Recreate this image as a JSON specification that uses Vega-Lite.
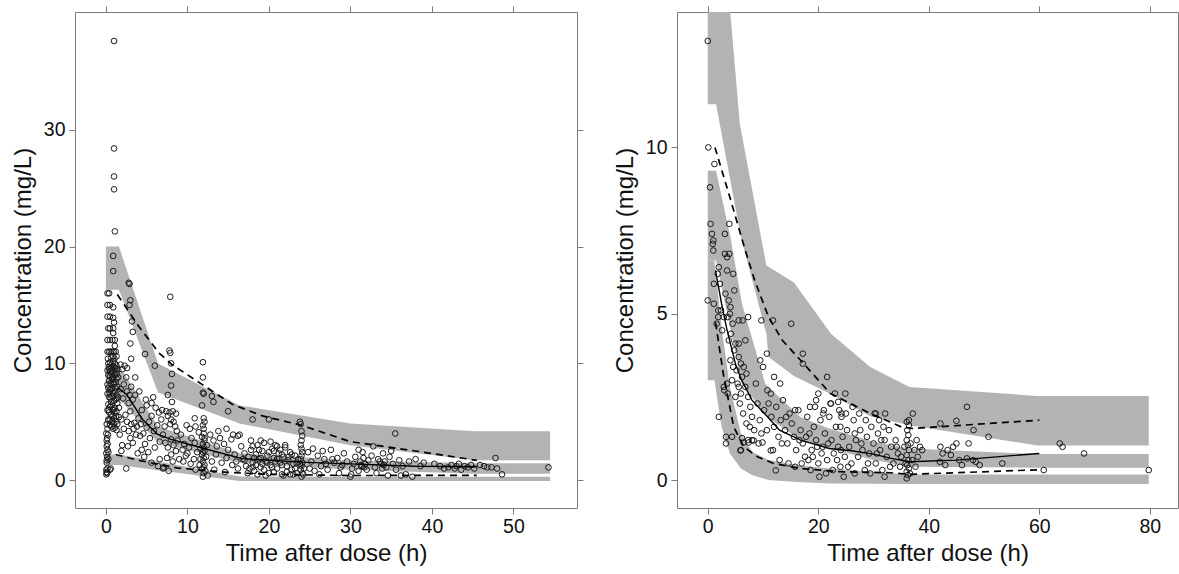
{
"$schema":"https://vega.github.io/schema/vega-lite/v6.json",
"background":"white",
"padding":{"left":10,"top":5,"right":0,"bottom":0},
"spacing":28,
"config":{"view":{"stroke":"#7a7a7a","strokeWidth":1},"font":"Liberation Sans"},
"datasets":{
"L_band":[
{"b":"p95","t":0,"lo":16.3,"hi":20},{"b":"p95","t":1.6,"lo":16.3,"hi":20},{"b":"p95","t":6.4,"lo":7.5,"hi":10},{"b":"p95","t":16.4,"lo":4.85,"hi":6.4},{"b":"p95","t":30,"lo":3.0,"hi":4.85},{"b":"p95","t":45.3,"lo":1.7,"hi":4.2},{"b":"p95","t":54.5,"lo":1.7,"hi":4.2},
{"b":"p50","t":0,"lo":7.0,"hi":9.8},{"b":"p50","t":1.6,"lo":7.0,"hi":9.8},{"b":"p50","t":6.4,"lo":3.2,"hi":4.6},{"b":"p50","t":16.4,"lo":1.5,"hi":2.3},{"b":"p50","t":30,"lo":0.9,"hi":1.7},{"b":"p50","t":45.3,"lo":0.55,"hi":1.45},{"b":"p50","t":54.5,"lo":0.55,"hi":1.45},
{"b":"p5","t":0,"lo":1.3,"hi":2.2},{"b":"p5","t":1.6,"lo":1.3,"hi":2.2},{"b":"p5","t":6.4,"lo":0.85,"hi":1.6},{"b":"p5","t":16.4,"lo":-0.06,"hi":0.32},{"b":"p5","t":30,"lo":-0.06,"hi":0.3},{"b":"p5","t":45.3,"lo":-0.06,"hi":0.3},{"b":"p5","t":54.5,"lo":-0.06,"hi":0.3}
],
"L_med":[{"t":1.5,"c":7.9},{"t":2.6,"c":7.3},{"t":4.5,"c":5.2},{"t":6.3,"c":3.95},{"t":8,"c":3.5},{"t":11.6,"c":2.8},{"t":16.7,"c":1.85},{"t":24,"c":1.55},{"t":30,"c":1.4},{"t":38,"c":1.2},{"t":45.5,"c":1.15}],
"L_dash":[
{"q":"p95","t":1.4,"c":15.9},{"q":"p95","t":4,"c":13.2},{"q":"p95","t":6.5,"c":10.9},{"q":"p95","t":8.1,"c":9.9},{"q":"p95","t":11.8,"c":8.2},{"q":"p95","t":15.5,"c":6.5},{"q":"p95","t":19.2,"c":5.5},{"q":"p95","t":24,"c":4.7},{"q":"p95","t":30,"c":3.3},{"q":"p95","t":38,"c":2.5},{"q":"p95","t":45.5,"c":1.7},
{"q":"p5","t":1.2,"c":2.2},{"q":"p5","t":4,"c":1.7},{"q":"p5","t":8.7,"c":1.05},{"q":"p5","t":12,"c":0.85},{"q":"p5","t":14.9,"c":0.67},{"q":"p5","t":20,"c":0.5},{"q":"p5","t":30,"c":0.4},{"q":"p5","t":45.5,"c":0.42}
],
"L_obs":[
{"t":0.05,"c":0.5},{"t":0.1,"c":0.7},{"t":0.05,"c":0.9},{"t":0.15,"c":0.6},{"t":0.2,"c":1.0},{"t":0.1,"c":1.5},{"t":0.1,"c":1.7},{"t":0.15,"c":2.0},{"t":0.05,"c":2.3},{"t":0.2,"c":2.6},{"t":0.1,"c":2.9},{"t":0.2,"c":3.1},{"t":0.1,"c":3.4},{"t":0.15,"c":3.6},{"t":0.05,"c":4.0},{"t":0.2,"c":4.4},{"t":0.1,"c":4.8},{"t":0.3,"c":5.2},{"t":0.25,"c":3.9},{"t":0.3,"c":2.4},{"t":0.5,"c":0.9},{"t":0.6,"c":1.0},{"t":0.3,"c":1.8},
{"t":0.3,"c":10.0},{"t":0.5,"c":10.1},{"t":0.7,"c":9.9},{"t":0.9,"c":10.2},{"t":1.1,"c":10.0},{"t":1.3,"c":9.8},
{"t":0.4,"c":9.5},{"t":0.6,"c":9.6},{"t":0.8,"c":9.4},{"t":1.0,"c":9.7},{"t":1.2,"c":9.3},{"t":1.4,"c":9.5},
{"t":0.3,"c":9.0},{"t":0.5,"c":8.9},{"t":0.7,"c":9.1},{"t":0.9,"c":8.8},{"t":1.1,"c":9.0},{"t":1.3,"c":8.7},
{"t":0.4,"c":8.5},{"t":0.6,"c":8.3},{"t":0.8,"c":8.6},{"t":1.0,"c":8.2},{"t":1.2,"c":8.4},{"t":1.4,"c":8.0},
{"t":0.3,"c":7.9},{"t":0.5,"c":7.7},{"t":0.7,"c":7.8},{"t":0.9,"c":7.5},{"t":1.1,"c":7.6},{"t":1.3,"c":7.3},
{"t":0.4,"c":7.1},{"t":0.6,"c":7.0},{"t":0.8,"c":7.2},{"t":1.0,"c":6.8},{"t":1.2,"c":6.9},{"t":1.4,"c":6.6},
{"t":0.3,"c":6.5},{"t":0.5,"c":6.3},{"t":0.7,"c":6.4},{"t":0.9,"c":6.1},{"t":1.1,"c":6.2},{"t":1.3,"c":5.9},
{"t":0.4,"c":5.8},{"t":0.6,"c":5.6},{"t":0.8,"c":5.5},{"t":1.0,"c":5.3},{"t":1.2,"c":5.0},{"t":1.4,"c":4.8},
{"t":0.3,"c":5.1},{"t":0.5,"c":4.7},{"t":0.7,"c":4.6},{"t":0.9,"c":4.4},{"t":1.1,"c":4.5},{"t":1.3,"c":4.3},
{"t":0.2,"c":8.2},{"t":0.2,"c":7.4},{"t":0.2,"c":6.0},{"t":0.2,"c":9.4},{"t":1.5,"c":7.1},{"t":1.5,"c":8.8},{"t":1.6,"c":6.2},{"t":1.6,"c":5.4},
{"t":0.35,"c":9.7},{"t":0.55,"c":9.3},{"t":0.75,"c":8.7},{"t":0.95,"c":8.4},{"t":1.15,"c":7.9},{"t":1.35,"c":7.0},{"t":0.45,"c":7.5},{"t":0.65,"c":6.7},{"t":0.85,"c":6.0},{"t":1.05,"c":5.8},{"t":1.25,"c":5.5},{"t":0.35,"c":6.0},{"t":0.55,"c":5.2},{"t":0.75,"c":5.0},{"t":0.95,"c":4.8},{"t":1.15,"c":9.6},{"t":1.35,"c":9.1},{"t":0.25,"c":10.4},{"t":0.65,"c":10.5},{"t":1.05,"c":10.4},
{"t":0.2,"c":11},{"t":0.4,"c":11},{"t":0.6,"c":11},{"t":0.8,"c":11},{"t":1.0,"c":11},{"t":1.2,"c":11},
{"t":0.2,"c":12},{"t":0.5,"c":12},{"t":0.8,"c":12},{"t":1.1,"c":12},{"t":0.3,"c":13},{"t":0.5,"c":13},{"t":0.9,"c":13},
{"t":0.2,"c":14},{"t":0.5,"c":14},{"t":0.9,"c":13.9},{"t":0.2,"c":15},{"t":0.5,"c":15},{"t":0.9,"c":14.8},{"t":0.2,"c":16},{"t":0.4,"c":16},
{"t":0.9,"c":12.6},{"t":1.0,"c":13.5},{"t":1.1,"c":11.5},{"t":1.3,"c":10.6},{"t":0.9,"c":10.6},
{"t":1.0,"c":37.6},{"t":1.0,"c":28.4},{"t":1.0,"c":26.0},{"t":1.0,"c":24.9},{"t":1.1,"c":21.3},{"t":0.9,"c":19.2},{"t":0.9,"c":17.9},{"t":2.8,"c":16.9},{"t":2.9,"c":16.8},{"t":3.0,"c":15.4},{"t":2.9,"c":15.0},{"t":3.2,"c":13.6},{"t":3.3,"c":12.7},{"t":3.0,"c":11.7},{"t":3.1,"c":10.4},{"t":4.8,"c":10.8},{"t":3.6,"c":8.8},{"t":6.0,"c":9.8},{"t":7.9,"c":15.7},{"t":7.8,"c":11.1},{"t":7.9,"c":10.9},{"t":8.0,"c":10.0},{"t":8.1,"c":9.1},{"t":8.0,"c":8.1},{"t":7.6,"c":7.3},{"t":8.1,"c":6.7},{"t":11.9,"c":10.1},{"t":11.9,"c":8.8},{"t":11.9,"c":7.5},{"t":12.0,"c":7.4},{"t":13.0,"c":7.2},{"t":13.2,"c":6.7},{"t":11.8,"c":6.4},{"t":15.0,"c":5.9},{"t":18.0,"c":5.2},{"t":20.0,"c":5.2},{"t":23.8,"c":5.0},{"t":23.9,"c":4.8},{"t":35.5,"c":4.0},{"t":47.8,"c":1.9},{"t":54.3,"c":1.1},{"t":48.6,"c":0.5},{"t":48.0,"c":1.0},{"t":2.5,"c":1.0},
{"t":1.8,"c":9.9},{"t":2.0,"c":9.5},{"t":2.3,"c":9.8},{"t":2.6,"c":9.6},{"t":2.5,"c":8.8},{"t":2.2,"c":8.2},{"t":1.8,"c":7.8},{"t":2.6,"c":7.6},{"t":2.9,"c":7.3},{"t":2.1,"c":7.0},{"t":2.8,"c":6.6},{"t":3.3,"c":6.9},{"t":3.1,"c":8.0},{"t":3.6,"c":7.3},{"t":3.0,"c":5.9},{"t":2.4,"c":5.6},{"t":1.9,"c":5.2},{"t":2.6,"c":5.0},{"t":3.1,"c":4.8},{"t":3.5,"c":4.9},{"t":4.0,"c":5.3},{"t":2.2,"c":4.4},{"t":2.8,"c":4.2},{"t":3.4,"c":4.4},{"t":3.8,"c":4.6},{"t":4.3,"c":4.8},{"t":3.0,"c":3.6},{"t":3.3,"c":3.2},{"t":2.7,"c":2.9},{"t":3.7,"c":3.9},{"t":4.2,"c":3.8},{"t":4.6,"c":4.0},{"t":5.0,"c":4.5},{"t":5.3,"c":5.0},{"t":5.6,"c":5.5},{"t":4.4,"c":6.0},{"t":5.0,"c":6.4},{"t":5.6,"c":6.6},{"t":6.1,"c":6.2},{"t":5.8,"c":7.1},{"t":4.9,"c":6.9},{"t":4.1,"c":7.6},{"t":6.5,"c":5.8},{"t":6.8,"c":5.2},{"t":6.3,"c":4.7},{"t":5.9,"c":4.2},{"t":5.4,"c":3.6},{"t":4.8,"c":3.1},{"t":4.4,"c":2.6},{"t":5.2,"c":2.4},{"t":6.0,"c":2.8},{"t":6.6,"c":3.3},{"t":7.0,"c":3.9},{"t":7.2,"c":4.6},{"t":6.9,"c":6.0},{"t":6.6,"c":1.8},{"t":5.6,"c":1.5},{"t":4.7,"c":2.0},{"t":3.9,"c":2.3},{"t":2.0,"c":3.0},{"t":1.7,"c":3.9},{"t":1.9,"c":2.5},{"t":6.4,"c":1.2},{"t":7.0,"c":1.0},
{"t":7.4,"c":5.9},{"t":7.8,"c":5.8},{"t":8.2,"c":5.9},{"t":8.6,"c":5.7},{"t":7.6,"c":5.5},{"t":8.0,"c":5.2},{"t":8.3,"c":5.0},{"t":7.9,"c":4.8},{"t":8.5,"c":4.6},
{"t":7.3,"c":3.2},{"t":7.6,"c":2.8},{"t":8.0,"c":3.5},{"t":8.3,"c":3.0},{"t":8.6,"c":2.5},{"t":8.0,"c":2.2},{"t":7.5,"c":1.9},{"t":8.2,"c":1.6},{"t":8.8,"c":3.4},{"t":9.2,"c":3.9},{"t":9.6,"c":3.1},{"t":9.4,"c":2.6},{"t":9.8,"c":2.1},{"t":10.2,"c":2.8},{"t":10.5,"c":3.6},{"t":10.9,"c":3.2},{"t":10.3,"c":4.4},{"t":11.0,"c":4.6},{"t":11.4,"c":4.1},{"t":10.8,"c":1.8},{"t":10.4,"c":1.4},{"t":11.2,"c":2.4},{"t":9.0,"c":1.8},{"t":9.9,"c":4.7},{"t":8.7,"c":4.2},{"t":7.1,"c":1.1},{"t":7.7,"c":0.8},{"t":11.0,"c":0.9},{"t":11.5,"c":1.3},{"t":10.9,"c":5.3},{"t":10.0,"c":2.3},{"t":9.5,"c":1.6},
{"t":11.9,"c":0.3},{"t":12.0,"c":0.6},{"t":11.8,"c":1.0},{"t":12.1,"c":1.3},{"t":11.9,"c":1.6},{"t":12.0,"c":1.9},{"t":11.8,"c":2.2},{"t":12.1,"c":2.5},{"t":12.0,"c":2.8},{"t":11.9,"c":3.1},{"t":12.1,"c":3.4},{"t":11.8,"c":3.7},{"t":12.0,"c":4.0},{"t":12.0,"c":4.4},{"t":11.9,"c":4.7},{"t":12.1,"c":5.0},{"t":12.0,"c":5.3},{"t":12.3,"c":2.0},{"t":12.4,"c":3.0},{"t":11.6,"c":2.7},{"t":11.6,"c":1.8},{"t":12.5,"c":0.4},{"t":12.0,"c":1.1},{"t":11.9,"c":2.4},{"t":12.1,"c":3.6},{"t":12.2,"c":0.8},
{"t":12.8,"c":3.9},{"t":13.2,"c":3.4},{"t":13.6,"c":2.9},{"t":14.0,"c":3.6},{"t":14.5,"c":3.1},{"t":15.0,"c":2.6},{"t":15.4,"c":3.5},{"t":15.8,"c":2.2},{"t":16.2,"c":3.8},{"t":16.6,"c":2.9},{"t":13.0,"c":1.6},{"t":13.5,"c":2.2},{"t":14.2,"c":1.5},{"t":14.8,"c":1.9},{"t":15.5,"c":1.3},{"t":16.0,"c":1.6},{"t":16.8,"c":1.8},{"t":13.8,"c":4.2},{"t":14.8,"c":4.4},{"t":15.6,"c":3.9},{"t":16.4,"c":3.9},{"t":17.0,"c":2.3},{"t":13.3,"c":0.9},{"t":14.6,"c":0.7},{"t":16.2,"c":1.0},
{"t":17.2,"c":1.2},{"t":17.5,"c":2.0},{"t":17.8,"c":2.6},{"t":18.0,"c":1.5},{"t":18.2,"c":0.8},{"t":18.4,"c":2.2},{"t":18.6,"c":3.0},{"t":18.8,"c":1.8},{"t":19.0,"c":1.1},{"t":19.2,"c":2.5},{"t":19.4,"c":3.2},{"t":19.6,"c":1.6},{"t":19.8,"c":2.1},{"t":20.0,"c":0.6},{"t":20.2,"c":1.3},{"t":20.4,"c":2.7},{"t":20.6,"c":1.9},{"t":20.8,"c":3.0},{"t":21.0,"c":1.0},{"t":21.2,"c":2.3},{"t":21.4,"c":1.5},{"t":21.6,"c":0.5},{"t":21.8,"c":2.0},{"t":22.0,"c":2.8},{"t":22.2,"c":1.2},{"t":22.4,"c":1.7},{"t":22.6,"c":2.4},{"t":22.8,"c":0.9},{"t":23.0,"c":1.4},{"t":23.2,"c":2.1},{"t":23.4,"c":0.6},{"t":23.6,"c":1.8},{"t":17.4,"c":0.6},{"t":18.6,"c":0.5},{"t":19.6,"c":0.4},{"t":20.6,"c":0.7},{"t":21.8,"c":0.4},{"t":22.6,"c":0.5},{"t":19.0,"c":3.4},{"t":20.2,"c":3.3},{"t":21.0,"c":2.9},{"t":18.0,"c":2.9},{"t":17.8,"c":3.4},{"t":22.0,"c":3.0},{"t":20.0,"c":2.4},{"t":19.2,"c":1.4},{"t":21.4,"c":2.6},{"t":18.4,"c":1.3},{"t":20.8,"c":1.6},{"t":22.8,"c":2.2},{"t":23.2,"c":1.0},{"t":17.0,"c":1.7},{"t":21.6,"c":1.3},
{"t":17.6,"c":1.0},{"t":18.2,"c":1.9},{"t":18.8,"c":2.6},{"t":19.4,"c":0.9},{"t":19.8,"c":1.5},{"t":20.4,"c":1.1},{"t":21.0,"c":1.8},{"t":21.6,"c":2.2},{"t":22.2,"c":0.7},{"t":22.4,"c":2.0},{"t":23.0,"c":0.5},{"t":23.4,"c":1.5},{"t":20.6,"c":2.5},{"t":19.0,"c":1.9},{"t":18.0,"c":1.1},
{"t":24.0,"c":0.3},{"t":24.1,"c":0.6},{"t":23.9,"c":0.9},{"t":24.0,"c":1.2},{"t":24.1,"c":1.5},{"t":23.9,"c":1.8},{"t":24.0,"c":2.1},{"t":24.1,"c":2.4},{"t":24.0,"c":2.7},{"t":23.9,"c":3.0},{"t":24.0,"c":3.4},{"t":24.1,"c":3.8},{"t":24.0,"c":4.2},{"t":24.2,"c":0.5},{"t":24.3,"c":1.0},{"t":23.8,"c":1.4},
{"t":24.8,"c":2.4},{"t":25.2,"c":1.6},{"t":25.6,"c":0.8},{"t":26.0,"c":2.1},{"t":26.4,"c":1.2},{"t":26.8,"c":1.8},{"t":27.2,"c":0.9},{"t":27.6,"c":2.6},{"t":28.0,"c":1.5},{"t":28.4,"c":1.9},{"t":28.8,"c":1.1},{"t":29.2,"c":2.3},{"t":29.6,"c":1.6},{"t":25.4,"c":2.7},{"t":26.2,"c":0.5},{"t":27.0,"c":1.4},{"t":28.6,"c":0.6},{"t":29.0,"c":1.3},{"t":25.0,"c":1.0},{"t":26.6,"c":2.5},{"t":27.8,"c":1.8},
{"t":30.0,"c":0.3},{"t":30.1,"c":0.5},{"t":30.2,"c":1.0},{"t":30.4,"c":1.4},{"t":30.6,"c":2.0},{"t":31.0,"c":0.8},{"t":31.2,"c":1.6},{"t":31.4,"c":1.2},{"t":31.5,"c":2.4},{"t":31.6,"c":1.9},{"t":31.8,"c":1.4},{"t":32.0,"c":0.9},{"t":32.2,"c":1.7},{"t":32.6,"c":2.1},{"t":32.8,"c":2.9},{"t":33.0,"c":1.1},{"t":33.4,"c":1.8},{"t":33.8,"c":1.4},{"t":34.0,"c":2.3},{"t":34.2,"c":1.6},{"t":34.4,"c":1.1},{"t":34.6,"c":0.4},{"t":34.8,"c":2.0},{"t":35.2,"c":1.4},{"t":35.6,"c":0.9},{"t":36.0,"c":1.7},{"t":36.4,"c":1.2},{"t":36.8,"c":0.5},{"t":37.2,"c":1.6},{"t":37.6,"c":0.3},{"t":33.2,"c":0.6},{"t":35.0,"c":2.5},{"t":31.0,"c":2.6},{"t":36.2,"c":0.4},{"t":31.3,"c":1.3},{"t":31.7,"c":1.1},{"t":33.9,"c":1.0},{"t":34.1,"c":1.3},{"t":33.6,"c":1.6},
{"t":38.0,"c":1.8},{"t":38.6,"c":1.2},{"t":40.3,"c":1.4},{"t":41.0,"c":1.2},{"t":42.0,"c":1.1},{"t":42.4,"c":1.3},{"t":42.8,"c":1.0},{"t":43.0,"c":1.2},{"t":43.3,"c":1.4},{"t":43.6,"c":0.9},{"t":44.0,"c":1.2},{"t":44.4,"c":1.1},{"t":44.8,"c":1.3},{"t":45.2,"c":1.0},{"t":45.9,"c":1.3},{"t":46.4,"c":1.2},{"t":46.8,"c":1.1},{"t":47.3,"c":1.1},{"t":39.0,"c":1.5},{"t":41.5,"c":1.0}
],
"R_band":[
{"b":"p95","t":0,"lo":11.3,"hi":19},{"b":"p95","t":1.5,"lo":11.3,"hi":19},{"b":"p95","t":4,"lo":9.08,"hi":14.2},{"b":"p95","t":5.8,"lo":7.48,"hi":10.7},{"b":"p95","t":6,"lo":7.3,"hi":10.52},{"b":"p95","t":10.6,"lo":4.4,"hi":6.45},{"b":"p95","t":11,"lo":3.7,"hi":6.41},{"b":"p95","t":15.6,"lo":3.13,"hi":5.94},{"b":"p95","t":22.3,"lo":2.58,"hi":4.4},{"b":"p95","t":29.4,"lo":1.92,"hi":3.4},{"b":"p95","t":36.5,"lo":1.65,"hi":2.8},{"b":"p95","t":59.6,"lo":1.04,"hi":2.53},{"b":"p95","t":79.8,"lo":1.04,"hi":2.53},
{"b":"p50","t":0,"lo":6.6,"hi":9.3},{"b":"p50","t":1.5,"lo":6.6,"hi":9.3},{"b":"p50","t":4.1,"lo":4.55,"hi":7.3},{"b":"p50","t":6.2,"lo":2.89,"hi":5.3},{"b":"p50","t":10.4,"lo":1.98,"hi":2.89},{"b":"p50","t":10.8,"lo":1.89,"hi":2.83},{"b":"p50","t":16.8,"lo":1.2,"hi":1.89},{"b":"p50","t":22,"lo":0.95,"hi":1.55},{"b":"p50","t":30,"lo":0.6,"hi":1.15},{"b":"p50","t":36.5,"lo":0.4,"hi":0.95},{"b":"p50","t":59.6,"lo":0.37,"hi":0.78},{"b":"p50","t":79.8,"lo":0.37,"hi":0.78},
{"b":"p5","t":0,"lo":3.0,"hi":6.6},{"b":"p5","t":1.2,"lo":3.0,"hi":6.6},{"b":"p5","t":2.5,"lo":1.6,"hi":4.6},{"b":"p5","t":4,"lo":0.8,"hi":2.8},{"b":"p5","t":6,"lo":0.35,"hi":1.4},{"b":"p5","t":8,"lo":0.15,"hi":0.85},{"b":"p5","t":11,"lo":0.0,"hi":0.6},{"b":"p5","t":16,"lo":-0.06,"hi":0.45},{"b":"p5","t":22,"lo":-0.1,"hi":0.35},{"b":"p5","t":30,"lo":-0.11,"hi":0.25},{"b":"p5","t":36.5,"lo":-0.12,"hi":0.17},{"b":"p5","t":59.6,"lo":-0.12,"hi":0.17},{"b":"p5","t":79.8,"lo":-0.12,"hi":0.17}
],
"R_med":[{"t":1.4,"c":6.3},{"t":2.5,"c":5.3},{"t":3.5,"c":4.5},{"t":5,"c":3.5},{"t":6,"c":3.05},{"t":8,"c":2.4},{"t":10.8,"c":1.9},{"t":13,"c":1.5},{"t":16.8,"c":1.2},{"t":22,"c":0.95},{"t":26,"c":0.88},{"t":30,"c":0.78},{"t":33,"c":0.66},{"t":36.5,"c":0.55},{"t":45,"c":0.6},{"t":60,"c":0.8}],
"R_dash":[
{"q":"p95","t":1.3,"c":10.0},{"q":"p95","t":4.0,"c":8.5},{"q":"p95","t":6.8,"c":6.9},{"q":"p95","t":8.5,"c":6.0},{"q":"p95","t":11,"c":4.9},{"q":"p95","t":13.5,"c":4.2},{"q":"p95","t":16.8,"c":3.6},{"q":"p95","t":22.2,"c":2.6},{"q":"p95","t":29.4,"c":2.0},{"q":"p95","t":35,"c":1.6},{"q":"p95","t":37,"c":1.55},{"q":"p95","t":60,"c":1.8},
{"q":"p5","t":1.4,"c":4.74},{"q":"p5","t":2.9,"c":3.1},{"q":"p5","t":4.7,"c":1.6},{"q":"p5","t":6.5,"c":1.0},{"q":"p5","t":9,"c":0.7},{"q":"p5","t":11.9,"c":0.5},{"q":"p5","t":16.8,"c":0.35},{"q":"p5","t":24,"c":0.25},{"q":"p5","t":33,"c":0.22},{"q":"p5","t":36.5,"c":0.17},{"q":"p5","t":60,"c":0.31}
],
"R_obs":[
{"t":0.0,"c":13.2},{"t":0.1,"c":10.0},{"t":1.2,"c":9.5},{"t":0.4,"c":8.8},{"t":0.5,"c":7.7},{"t":0.75,"c":7.4},{"t":1.0,"c":7.2},{"t":0.9,"c":7.1},{"t":1.0,"c":6.9},{"t":3.1,"c":7.4},{"t":3.9,"c":7.7},{"t":3.1,"c":6.8},{"t":3.5,"c":6.7},{"t":3.9,"c":6.8},{"t":2.0,"c":6.4},{"t":1.8,"c":6.2},{"t":4.6,"c":6.2},{"t":3.5,"c":6.3},{"t":1.1,"c":5.9},{"t":2.2,"c":5.9},{"t":0.0,"c":5.4},{"t":1.1,"c":5.3},{"t":1.9,"c":5.1},{"t":2.4,"c":5.1},{"t":1.9,"c":4.9},{"t":2.9,"c":4.9},{"t":3.6,"c":4.9},{"t":1.6,"c":4.7},{"t":3.8,"c":5.4},{"t":4.1,"c":5.2},{"t":4.5,"c":4.7},{"t":5.6,"c":4.8},{"t":6.3,"c":4.8},{"t":7.3,"c":4.9},{"t":9.7,"c":4.8},{"t":11.8,"c":4.8},{"t":15.1,"c":4.7},{"t":3.8,"c":4.2},{"t":5.0,"c":4.1},{"t":5.6,"c":4.1},{"t":6.8,"c":4.2},{"t":4.1,"c":3.6},{"t":4.6,"c":3.4},{"t":5.6,"c":3.7},{"t":6.0,"c":3.5},{"t":6.5,"c":3.4},{"t":10.7,"c":3.8},{"t":9.5,"c":3.6},{"t":10.0,"c":3.4},{"t":17.2,"c":3.8},{"t":17.2,"c":3.5},{"t":12.0,"c":3.1},{"t":21.6,"c":3.1},{"t":3.0,"c":2.7},{"t":3.6,"c":2.6},{"t":5.4,"c":2.9},{"t":5.6,"c":2.8},{"t":6.0,"c":2.6},{"t":6.8,"c":2.8},{"t":8.7,"c":2.9},{"t":11.4,"c":2.6},{"t":13.1,"c":2.9},{"t":7.3,"c":2.5},{"t":7.7,"c":2.2},{"t":8.0,"c":1.9},{"t":2.0,"c":1.9},{"t":3.3,"c":1.3},{"t":4.4,"c":1.3},{"t":3.3,"c":1.1},{"t":6.0,"c":0.9},{"t":6.2,"c":1.26},{"t":7.3,"c":1.2},{"t":8.0,"c":1.2},{"t":9.2,"c":1.1},{"t":9.7,"c":1.4},{"t":10.7,"c":1.5},
{"t":4.2,"c":4.4},{"t":4.8,"c":3.9},{"t":5.2,"c":3.3},{"t":4.4,"c":3.0},{"t":5.0,"c":2.5},{"t":5.8,"c":2.3},{"t":6.4,"c":2.0},{"t":7.0,"c":1.7},{"t":7.6,"c":1.6},{"t":8.4,"c":1.5},{"t":9.0,"c":2.3},{"t":9.4,"c":1.8},{"t":10.2,"c":2.1},{"t":10.8,"c":2.7},{"t":6.2,"c":3.1},{"t":7.0,"c":3.2},{"t":4.0,"c":5.0},{"t":4.8,"c":5.7},{"t":3.2,"c":5.6},{"t":2.6,"c":4.5},{"t":2.9,"c":2.8},{"t":3.5,"c":2.9},{"t":6.5,"c":1.13},{"t":7.4,"c":1.13},{"t":8.3,"c":1.19},{"t":9.9,"c":1.13},{"t":11.4,"c":0.89},{"t":12.3,"c":0.29},{"t":5.9,"c":0.89},
{"t":11.0,"c":2.3},{"t":11.5,"c":1.9},{"t":12.0,"c":1.6},{"t":12.4,"c":2.2},{"t":12.8,"c":1.3},{"t":13.2,"c":1.8},{"t":13.6,"c":2.4},{"t":14.0,"c":1.5},{"t":14.4,"c":1.1},{"t":14.8,"c":2.0},{"t":15.2,"c":1.7},{"t":15.6,"c":1.3},{"t":16.0,"c":0.9},{"t":16.4,"c":2.1},{"t":16.8,"c":1.5},{"t":17.2,"c":1.1},{"t":17.6,"c":0.7},{"t":18.0,"c":1.9},{"t":18.4,"c":1.4},{"t":18.8,"c":0.9},{"t":19.2,"c":1.6},{"t":19.6,"c":1.2},{"t":20.0,"c":0.5},{"t":20.2,"c":0.1},{"t":20.4,"c":1.8},{"t":20.8,"c":1.0},{"t":21.2,"c":1.4},{"t":21.6,"c":0.6},{"t":22.0,"c":1.9},{"t":22.4,"c":1.2},{"t":22.8,"c":0.8},{"t":23.2,"c":1.6},{"t":23.6,"c":1.0},{"t":24.0,"c":0.4},{"t":24.4,"c":1.3},{"t":24.6,"c":0.1},{"t":24.8,"c":0.7},{"t":25.2,"c":1.5},{"t":25.6,"c":1.0},{"t":26.0,"c":0.5},{"t":26.4,"c":1.8},{"t":26.8,"c":1.2},{"t":27.2,"c":0.7},{"t":27.6,"c":1.5},{"t":28.0,"c":0.9},{"t":28.4,"c":0.3},{"t":28.8,"c":1.3},{"t":29.2,"c":0.8},{"t":29.6,"c":1.6},{"t":30.0,"c":1.1},{"t":30.4,"c":0.5},{"t":30.8,"c":1.4},{"t":31.2,"c":0.9},{"t":31.6,"c":0.3},{"t":32.0,"c":1.2},{"t":32.4,"c":0.7},{"t":32.8,"c":1.5},{"t":33.2,"c":1.0},{"t":33.6,"c":0.5},{"t":34.0,"c":1.2},{"t":34.4,"c":0.8},{"t":34.8,"c":0.4},{"t":11.8,"c":0.9},{"t":13.0,"c":0.6},{"t":14.6,"c":0.5},{"t":15.8,"c":0.4},{"t":17.0,"c":0.5},{"t":18.6,"c":0.3},{"t":19.4,"c":2.2},{"t":20.0,"c":2.6},{"t":21.0,"c":2.1},{"t":22.2,"c":2.3},{"t":23.0,"c":2.6},{"t":23.8,"c":2.1},{"t":24.2,"c":1.9},{"t":25.0,"c":2.0},{"t":26.2,"c":2.2},{"t":27.4,"c":2.0},{"t":28.6,"c":1.8},{"t":30.2,"c":2.0},{"t":31.0,"c":1.8},{"t":31.8,"c":1.6},{"t":22.6,"c":0.3},{"t":21.4,"c":0.2},{"t":26.6,"c":0.2},{"t":29.4,"c":0.2},{"t":32.0,"c":0.1},{"t":19.0,"c":0.7},{"t":17.8,"c":1.3},
{"t":20.6,"c":0.8},{"t":21.8,"c":1.1},{"t":23.4,"c":0.6},{"t":24.0,"c":1.6},{"t":24.1,"c":0.9},{"t":24.2,"c":2.0},{"t":25.4,"c":0.4},{"t":26.6,"c":1.4},{"t":27.8,"c":1.1},{"t":29.0,"c":0.5},{"t":30.6,"c":0.8},{"t":31.4,"c":1.2},{"t":33.0,"c":0.4},{"t":34.2,"c":1.0},{"t":35.0,"c":0.7},{"t":19.8,"c":1.0},{"t":18.2,"c":0.6},{"t":16.6,"c":1.2},{"t":14.2,"c":1.9},{"t":13.4,"c":1.1},
{"t":36.0,"c":0.05},{"t":36.2,"c":0.15},{"t":36.0,"c":0.25},{"t":36.4,"c":0.35},{"t":36.1,"c":0.45},{"t":36.3,"c":0.6},{"t":36.0,"c":0.75},{"t":36.4,"c":0.9},{"t":36.2,"c":1.05},{"t":36.0,"c":1.2},{"t":36.3,"c":1.35},{"t":36.1,"c":1.5},{"t":36.4,"c":1.65},{"t":35.8,"c":0.5},{"t":36.6,"c":0.2},{"t":35.6,"c":1.0},{"t":36.7,"c":1.1},{"t":36.0,"c":1.75},{"t":36.4,"c":1.8},{"t":37.0,"c":0.6},{"t":37.4,"c":0.9},{"t":37.8,"c":1.2},{"t":38.0,"c":0.7},{"t":37.6,"c":0.4},{"t":38.4,"c":1.0},{"t":38.8,"c":0.9},
{"t":42.0,"c":0.55},{"t":42.1,"c":1.0},{"t":42.5,"c":0.8},{"t":43.0,"c":0.45},{"t":43.4,"c":0.9},{"t":44.0,"c":0.75},{"t":44.4,"c":1.0},{"t":45.0,"c":1.1},{"t":45.5,"c":0.6},{"t":46.0,"c":0.45},{"t":46.9,"c":0.65},{"t":47.2,"c":1.1},{"t":48.0,"c":0.6},{"t":48.5,"c":0.55},{"t":49.2,"c":0.45},{"t":42.1,"c":1.7},{"t":45.0,"c":1.78},{"t":46.9,"c":2.2},{"t":48.1,"c":1.5},{"t":50.8,"c":1.3},{"t":53.3,"c":0.5},{"t":37.1,"c":2.0},{"t":30.4,"c":2.0},{"t":32.1,"c":2.0},{"t":15.8,"c":2.1},{"t":18.5,"c":2.2},{"t":19.6,"c":2.4},{"t":20.9,"c":2.0},{"t":22.3,"c":2.3},{"t":23.6,"c":2.35},{"t":24.9,"c":2.6},
{"t":60.8,"c":0.3},{"t":63.7,"c":1.1},{"t":64.2,"c":1.0},{"t":68.1,"c":0.8},{"t":79.8,"c":0.3}
]
},
"hconcat":[
{
"width":502,"height":496,
"resolve":{"axis":{"x":"independent","y":"independent"}},
"layer":[
{"data":{"name":"L_band"},"mark":{"type":"area","color":"#b3b3b3","clip":true},
"encoding":{
"x":{"field":"t","type":"quantitative","scale":{"domain":[-3.79,57.8],"nice":false,"zero":false},
"axis":{"orient":"bottom","values":[0,10,20,30,40,50],"title":"Time after dose (h)","grid":false,"domain":false,"tickColor":"#7a7a7a","tickSize":6,"labelFont":"Liberation Sans","labelFontSize":19.5,"labelColor":"#111","labelPadding":3,"titleFont":"Liberation Sans","titleFontSize":24,"titleFontWeight":"normal","titleColor":"#111","titlePadding":6}},
"y":{"field":"hi","type":"quantitative","scale":{"domain":[-2.38,40.08],"nice":false,"zero":false},
"axis":{"orient":"left","values":[0,10,20,30],"title":"Concentration (mg/L)","grid":false,"domain":false,"tickColor":"#7a7a7a","tickSize":6,"labelFont":"Liberation Sans","labelFontSize":19.5,"labelColor":"#111","labelPadding":4,"titleFont":"Liberation Sans","titleFontSize":24,"titleFontWeight":"normal","titleColor":"#111","titlePadding":8}},
"y2":{"field":"lo"},
"detail":{"field":"b"}}},
{"data":{"name":"L_obs"},"mark":{"type":"point","shape":"circle","filled":false,"size":32,"stroke":"#1a1a1a","strokeWidth":1,"opacity":1,"clip":true},
"encoding":{
"x":{"field":"t","type":"quantitative","axis":{"orient":"top","values":[0,10,20,30,40,50],"labels":false,"title":null,"grid":false,"domain":false,"tickColor":"#7a7a7a","tickSize":6}},
"y":{"field":"c","type":"quantitative","axis":{"orient":"right","values":[0,10,20,30],"labels":false,"title":null,"grid":false,"domain":false,"tickColor":"#7a7a7a","tickSize":6}}}},
{"data":{"name":"L_dash"},"mark":{"type":"line","color":"#000","strokeDash":[7,5],"strokeWidth":1.7,"clip":true},
"encoding":{"x":{"field":"t","type":"quantitative","axis":null},"y":{"field":"c","type":"quantitative","axis":null},"detail":{"field":"q"}}},
{"data":{"name":"L_med"},"mark":{"type":"line","color":"#000","strokeWidth":1.4,"clip":true},
"encoding":{"x":{"field":"t","type":"quantitative","axis":null},"y":{"field":"c","type":"quantitative","axis":null}}}
]
},
{
"width":501,"height":496,
"resolve":{"axis":{"x":"independent","y":"independent"}},
"layer":[
{"data":{"name":"R_band"},"mark":{"type":"area","color":"#b3b3b3","clip":true},
"encoding":{
"x":{"field":"t","type":"quantitative","scale":{"domain":[-5.57,85.1],"nice":false,"zero":false},
"axis":{"orient":"bottom","values":[0,20,40,60,80],"title":"Time after dose (h)","grid":false,"domain":false,"tickColor":"#7a7a7a","tickSize":6,"labelFont":"Liberation Sans","labelFontSize":19.5,"labelColor":"#111","labelPadding":3,"titleFont":"Liberation Sans","titleFontSize":24,"titleFontWeight":"normal","titleColor":"#111","titlePadding":6}},
"y":{"field":"hi","type":"quantitative","scale":{"domain":[-0.84,14.07],"nice":false,"zero":false},
"axis":{"orient":"left","values":[0,5,10],"title":"Concentration (mg/L)","grid":false,"domain":false,"tickColor":"#7a7a7a","tickSize":6,"labelFont":"Liberation Sans","labelFontSize":19.5,"labelColor":"#111","labelPadding":4,"titleFont":"Liberation Sans","titleFontSize":24,"titleFontWeight":"normal","titleColor":"#111","titlePadding":8}},
"y2":{"field":"lo"},
"detail":{"field":"b"}}},
{"data":{"name":"R_obs"},"mark":{"type":"point","shape":"circle","filled":false,"size":32,"stroke":"#1a1a1a","strokeWidth":1,"opacity":1,"clip":true},
"encoding":{
"x":{"field":"t","type":"quantitative","axis":{"orient":"top","values":[0,20,40,60,80],"labels":false,"title":null,"grid":false,"domain":false,"tickColor":"#7a7a7a","tickSize":6}},
"y":{"field":"c","type":"quantitative","axis":{"orient":"right","values":[0,5,10],"labels":false,"title":null,"grid":false,"domain":false,"tickColor":"#7a7a7a","tickSize":6}}}},
{"data":{"name":"R_dash"},"mark":{"type":"line","color":"#000","strokeDash":[7,5],"strokeWidth":1.7,"clip":true},
"encoding":{"x":{"field":"t","type":"quantitative","axis":null},"y":{"field":"c","type":"quantitative","axis":null},"detail":{"field":"q"}}},
{"data":{"name":"R_med"},"mark":{"type":"line","color":"#000","strokeWidth":1.4,"clip":true},
"encoding":{"x":{"field":"t","type":"quantitative","axis":null},"y":{"field":"c","type":"quantitative","axis":null}}}
]
}
]
}
